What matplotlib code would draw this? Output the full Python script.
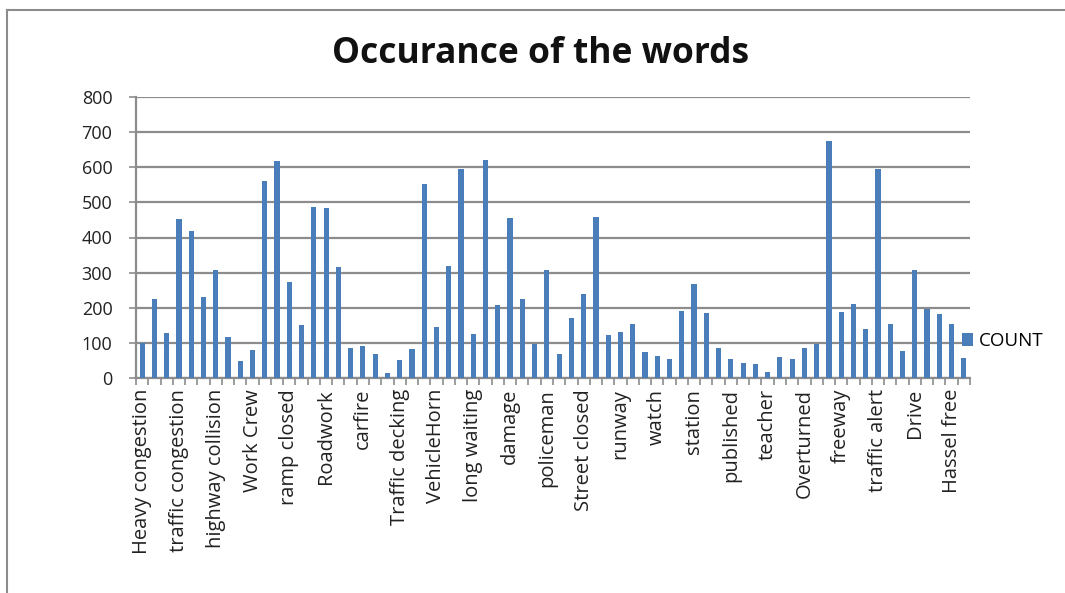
import matplotlib.pyplot as plt
from matplotlib.lines import Line2D
import numpy as np

# Word counts (68 words, only every third one is labelled on the axis)
counts = [99, 226, 128, 453, 418, 232, 308, 116, 47, 79,
          562, 618, 273, 150, 486, 483, 317, 85, 90, 68,
          15, 50, 82, 552, 144, 320, 594, 124, 621, 208,
          455, 226, 97, 307, 68, 170, 238, 458, 122, 132,
          154, 75, 62, 53, 192, 268, 186, 85, 53, 44,
          40, 18, 60, 53, 85, 96, 674, 188, 211, 139,
          595, 154, 78, 307, 197, 182, 154, 57]

shown_labels = ["Heavy congestion", "traffic congestion", "highway collision",
                "Work Crew", "ramp closed", "Roadwork", "carfire",
                "Traffic decking", "VehicleHorn", "long waiting", "damage",
                "policeman", "Street closed", "runway", "watch", "station",
                "published", "teacher", "Overturned", "freeway",
                "traffic alert", "Drive", "Hassel free"]

y_ticks = [0, 100, 200, 300, 400, 500, 600, 700, 800]

plt.rcParams['font.family'] = ['Open Sans', 'DejaVu Sans']

fig = plt.figure(figsize=(10.65, 5.93), dpi=100)
ax = fig.add_axes([136 / 1065, 1 - 378 / 593, (970 - 136) / 1065, (378 - 97) / 593])

x = np.arange(len(counts))
ax.bar(x, counts, width=0.42, color="#4a7ebb", label="COUNT", zorder=3)

ax.set_xlim(-0.5, len(counts) - 0.5)
ax.set_ylim(0, 800)
ax.set_yticks(y_ticks)
ax.set_yticklabels([str(v) for v in y_ticks], fontsize=13, color="#222222")
ax.yaxis.grid(True, color="#8c8c8c", linewidth=1.6, zorder=0)
ax.tick_params(axis="y", length=5, width=1.2, color="#8c8c8c", pad=12)

# ticks at category boundaries, labels on every third category
ax.set_xticks(np.arange(len(counts) + 1) - 0.5)
ax.set_xticklabels([])
ax.set_xticks(x[::3], minor=True)
ax.set_xticklabels(shown_labels, minor=True, rotation=90, fontsize=14.5,
                   color="#222222")
ax.tick_params(axis="x", which="major", length=5, width=1.2, color="#8c8c8c",
               direction="out")
ax.tick_params(axis="x", which="minor", length=0, pad=8)

for side in ["top", "right"]:
    ax.spines[side].set_visible(False)
for side in ["left", "bottom"]:
    ax.spines[side].set_color("#8c8c8c")
    ax.spines[side].set_linewidth(1.6)

fig.text(541 / 1065, 1 - 54 / 593, "Occurance of the words", ha="center",
         va="center", fontsize=25.5, fontweight="bold", color="#111111")

ax.legend(loc="center left", bbox_to_anchor=(0.97, 0.13), frameon=False,
          fontsize=13.5, handlelength=0.6, handleheight=0.7, handletextpad=0.3)

# outer chart border (left and top only visible)
fig.add_artist(Line2D([7 / 1065, 7 / 1065], [0, 1 - 10 / 593],
                      transform=fig.transFigure, color="#8c8c8c", linewidth=1.5))
fig.add_artist(Line2D([7 / 1065, 1], [1 - 10 / 593, 1 - 10 / 593],
                      transform=fig.transFigure, color="#8c8c8c", linewidth=1.5))

fig.savefig("out.png", dpi=100)
